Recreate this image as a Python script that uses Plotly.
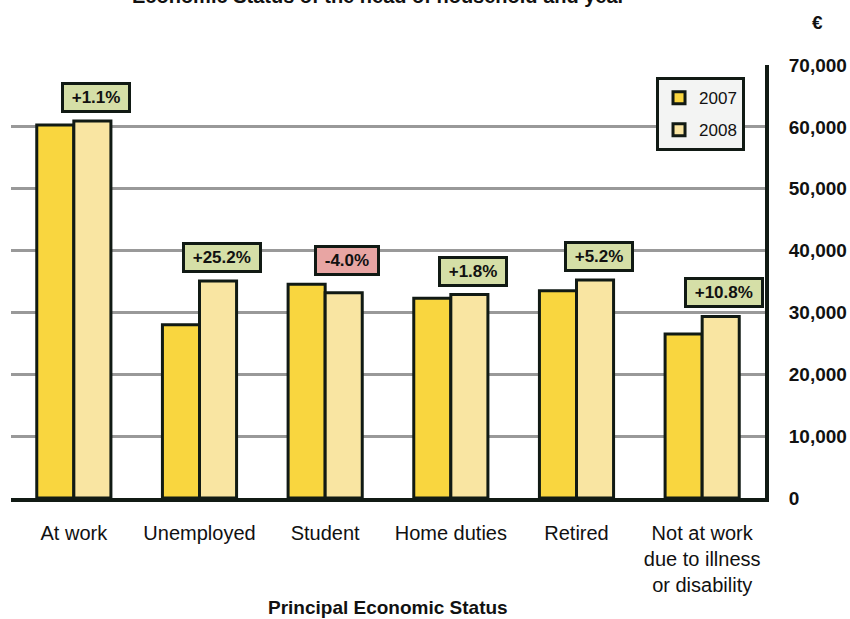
import plotly.graph_objects as go

categories = ["At work", "Unemployed", "Student", "Home duties", "Retired",
              "Not at work<br>due to illness<br>or disability"]
values_2007 = [60300, 28000, 34550, 32300, 33500, 26500]
values_2008 = [60960, 35100, 33170, 32880, 35240, 29360]
change_labels = ["+1.1%", "+25.2%", "-4.0%", "+1.8%", "+5.2%", "+10.8%"]
tick_values = [0, 10000, 20000, 30000, 40000, 50000, 60000, 70000]

FONT = "Liberation Sans, Arial, sans-serif"
EDGE = "#111a14"

fig = go.Figure()
fig.add_trace(go.Bar(name="2007", x=categories, y=values_2007, legendgroup="a",
                     marker=dict(color="#F9D63F", line=dict(color=EDGE, width=3))))
fig.add_trace(go.Bar(name="2008", x=categories, y=values_2008, legendgroup="b",
                     marker=dict(color="#F9E5A2", line=dict(color=EDGE, width=3))))

annotations = []
for cat, a, b, lab in zip(categories, values_2007, values_2008, change_labels):
    neg = lab.startswith("-")
    annotations.append(dict(
        x=cat, y=max(a, b), xref="x", yref="y", yanchor="bottom", xanchor="center",
        xshift=22, yshift=8, showarrow=False,
        text="<b>\u00a0" + lab + "\u00a0</b>",
        font=dict(family=FONT, size=17, color="#111111"),
        bgcolor="#E8A5A3" if neg else "#D5DFA7",
        bordercolor=EDGE, borderwidth=3, borderpad=3))

# chart title (partially cut at top in reference)
annotations.append(dict(x=0.488, y=1.13, xref="paper", yref="paper", showarrow=False,
                        xanchor="center", yanchor="bottom",
                        text="<b>Economic Status of the head of household and year</b>",
                        font=dict(family=FONT, size=20, color="#111111")))
annotations.append(dict(x=1.07, y=1.099, xref="paper", yref="paper", showarrow=False,
                        xanchor="center", yanchor="middle", text="<b>€</b>",
                        font=dict(family=FONT, size=19, color="#111111")))
annotations.append(dict(x=0.5, y=-0.252, xref="paper", yref="paper", showarrow=False,
                        xanchor="center", yanchor="middle",
                        text="<b>Principal Economic Status</b>",
                        font=dict(family=FONT, size=19, color="#111111")))

fig.update_layout(
    width=850, height=619,
    margin=dict(l=11, r=85, t=65, b=121, autoexpand=False),
    paper_bgcolor="white", plot_bgcolor="white",
    barmode="group", bargap=0.41, bargroupgap=0,
    font=dict(family=FONT, color="#111111"),
    annotations=annotations,
    legend=dict(x=0.9735, y=0.972, xanchor="right", yanchor="top",
                bgcolor="#F3F4F3", bordercolor=EDGE, borderwidth=3,
                font=dict(family=FONT, size=17, color="#111111"),
                traceorder="grouped", tracegroupgap=7, itemwidth=30),
    showlegend=True,
)
fig.update_xaxes(showline=True, linecolor=EDGE, linewidth=4, ticks="",
                 tickfont=dict(family=FONT, size=20, color="#111111"),
                 ticklabelstandoff=14, showgrid=False)
fig.update_yaxes(side="right", range=[0, 70000], tickvals=tick_values,
                 tickformat=",", showline=True, linecolor=EDGE, linewidth=4,
                 showgrid=True, gridcolor="#999999", gridwidth=3, zeroline=False,
                 ticks="", ticklabelstandoff=16,
                 tickfont=dict(family=FONT, size=19, color="#111111", weight="bold"))

fig.write_html("out.html", config={"displayModeBar": False},
               post_script="document.body.style.margin='0';document.body.style.overflow='hidden';")
